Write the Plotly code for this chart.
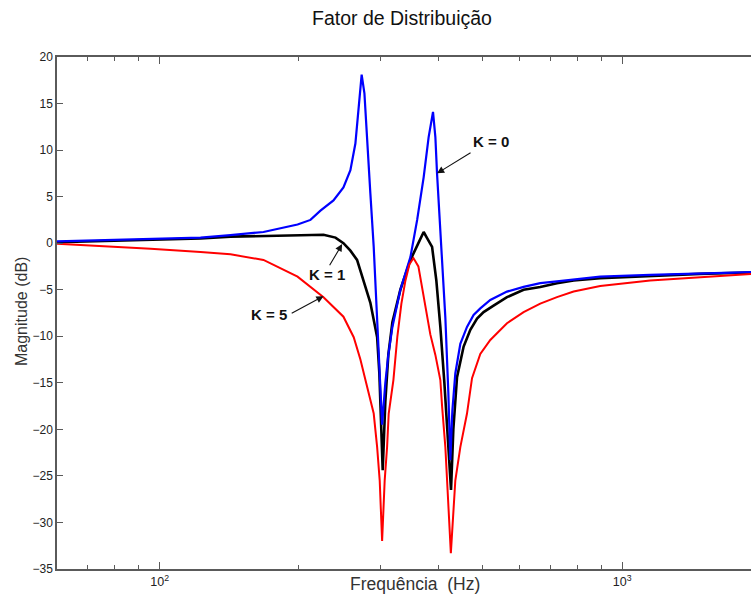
import math
import plotly.graph_objects as go

# ---- data ----
freq_k0 = [60, 74.6, 95.6, 122.6, 142.3, 167.7, 198.7, 211.9, 222.7, 237.6, 249.7, 258.5, 265.0,
           271.7, 273.4, 277.2, 280.9, 285.5, 290.3, 294.2, 298.6, 302.7, 307.6, 312.2, 318.6,
           331.5, 348.5, 360.4, 372.3, 381.6, 390.0, 394.6, 397.9, 404.5, 414.7, 420.9, 425.1,
           429.4, 435.8, 446.8, 461.9, 477.3, 493.5, 518.7, 563.6, 612.2, 665.2, 722.8, 785.3,
           896.5, 1149.5, 1474, 1899]
mag_k0 = [0.2, 0.3, 0.45, 0.6, 0.87, 1.2, 2.0, 2.5, 3.5, 4.6, 6.0, 7.85, 10.7,
          16.1, 18.1, 16.1, 10.7, 5.35, -0.4, -6, -13, -19.5, -15, -12, -9,
          -5, -1.5, 2.5, 7.1, 11.4, 14.1, 11.4, 7.5, 1.8, -8, -16, -23.3,
          -18, -14, -10.8, -9.0, -7.7, -7.0, -6.1, -5.2, -4.7, -4.3, -4.1, -3.9,
          -3.6, -3.4, -3.25, -3.1]

freq_k1 = [60, 74.6, 95.6, 122.6, 142.3, 167.7, 201.6, 226.1, 240.0, 249.7, 258.5, 267.2, 275.8,
           285.5, 295.3, 298.6, 303.6, 307.6, 312.2, 318.6, 331.5, 348.5, 362.6, 372.3, 379.2,
           388.2, 396.5, 404.5, 412.7, 418.8, 426.6, 431.5, 439.5, 454.2, 469.6, 485.6, 501.7,
           527.2, 563.6, 612.2, 665.2, 722.8, 785.3, 896.5, 1149.5, 1474, 1899]
mag_k1 = [0.1, 0.2, 0.35, 0.5, 0.7, 0.8, 0.85, 0.9, 0.6, 0.0, -0.8, -1.8, -4.0,
          -6.4, -10.1, -14, -24.4, -17, -12, -8.5, -5, -1.8, 0, 1.2, 0.5,
          -0.4, -4, -9, -15, -20, -26.5, -20, -14.4, -11.1, -9.3, -8.1, -7.4,
          -6.7, -5.8, -5.0, -4.7, -4.3, -4.0, -3.75, -3.5, -3.3, -3.15]

freq_k5 = [60, 74.6, 95.6, 122.6, 142.3, 167.7, 198.7, 226.1, 249.7, 262.8, 271.7, 278.6, 290.3,
           295.3, 299.1, 302.7, 306.6, 310.3, 312.8, 320.2, 326.6, 333.2, 340.0, 346.7, 353.8,
           362.6, 368.2, 375.5, 384.8, 394.6, 404.5, 408.0, 414.7, 418.3, 426.2, 435.8, 446.8,
           461.9, 473.6, 493.5, 518.7, 563.6, 612.2, 665.2, 722.8, 785.3, 896.5, 1149.5, 1474, 1899]
mag_k5 = [-0.05, -0.3, -0.6, -0.95, -1.2, -1.8, -3.6, -5.8, -7.9, -10.1, -12.5, -14.7, -18.3,
          -21.9, -25.5, -32, -25.5, -21.9, -18.3, -14.7, -10, -6.5, -4, -2.3, -1.6,
          -2.5, -4.5, -7, -9.8, -12, -14.7, -17.5, -21.9, -25.5, -33.3, -25.5, -21.9,
          -18.3, -14.5, -11.9, -10.4, -8.6, -7.4, -6.5, -5.8, -5.2, -4.6, -4.0, -3.65, -3.3]

y_ticks = [-35, -30, -25, -20, -15, -10, -5, 0, 5, 10, 15, 20]
x_major = [100, 1000]
x_major_text = ["10<sup>2</sup>", "10<sup>3</sup>"]
x_minor = [60, 70, 80, 90, 200, 300, 400, 500, 600, 700, 800, 900]

FONT = "Arial, Liberation Sans, sans-serif"

fig = go.Figure()
fig.add_trace(go.Scatter(x=freq_k1, y=mag_k1, mode="lines", line=dict(color="#000000", width=2.6), name="K = 1"))
fig.add_trace(go.Scatter(x=freq_k0, y=mag_k0, mode="lines", line=dict(color="#0000ff", width=2.2), name="K = 0"))
fig.add_trace(go.Scatter(x=freq_k5, y=mag_k5, mode="lines", line=dict(color="#ff0000", width=2.0), name="K = 5"))

axis_col = "#5a5a5a"
fig.update_xaxes(type="log", range=[math.log10(60), math.log10(1899)],
                 showline=True, linecolor=axis_col, linewidth=1.5, mirror="allticks",
                 ticks="inside", ticklen=7, tickcolor=axis_col, tickwidth=1.2,
                 tickvals=x_major, ticktext=x_major_text,
                 minor=dict(tickvals=x_minor, ticks="inside", ticklen=4, tickcolor=axis_col, tickwidth=1.2),
                 showgrid=False, zeroline=False,
                 tickfont=dict(family=FONT, size=12.5, color="#222"))
fig.update_yaxes(range=[-35, 20], showline=True, linecolor=axis_col, linewidth=1.5, mirror=False,
                 ticks="inside", ticklen=6, tickcolor=axis_col, tickwidth=1.2,
                 tickvals=y_ticks, showgrid=False, zeroline=False,
                 tickfont=dict(family=FONT, size=12, color="#222"))

ann = []
# titles
ann.append(dict(text="Fator de Distribuição", xref="paper", yref="paper", x=(401.5 - 57) / 694, y=(569 - 18) / 512,
                showarrow=False, font=dict(family=FONT, size=19.5, color="#111"), xanchor="center", yanchor="middle"))
ann.append(dict(text="Frequência  (Hz)", xref="paper", yref="paper", x=(415 - 57) / 694, y=(569 - 584) / 512,
                showarrow=False, font=dict(family=FONT, size=17.5, color="#333"), xanchor="center", yanchor="middle"))
ann.append(dict(text="Magnitude (dB)", xref="paper", yref="paper", x=(21 - 57) / 694, y=(569 - 312) / 512,
                showarrow=False, textangle=-90, font=dict(family=FONT, size=16, color="#333"),
                xanchor="center", yanchor="middle"))

# arrows and labels
labels = [("K = 0", 397.9, 7.5, 35, -21.6, 521, 10.9),
          ("K = 1", 248.1, -0.1, -13.4, 22.7, 230.1, -3.33),
          ("K = 5", 226.1, -5.69, -33.3, 18, 172.8, -7.63)]
for txt, hx, hy, ax, ay, tx, ty in labels:
    ann.append(dict(x=math.log10(hx), y=hy, xref="x", yref="y", text="", showarrow=True,
                    ax=ax, ay=ay, arrowhead=2, arrowsize=1.3, arrowwidth=1.1, arrowcolor="#111", standoff=0))
    ann.append(dict(x=math.log10(tx), y=ty, xref="x", yref="y", text="<b>%s</b>" % txt, showarrow=False,
                    font=dict(family=FONT, size=15, color="#111"), xanchor="center", yanchor="middle"))

fig.update_layout(width=751, height=597, margin=dict(l=57, r=0, t=57, b=28),
                  paper_bgcolor="white", plot_bgcolor="white", showlegend=False,
                  annotations=ann)

fig.write_html("out.html")
